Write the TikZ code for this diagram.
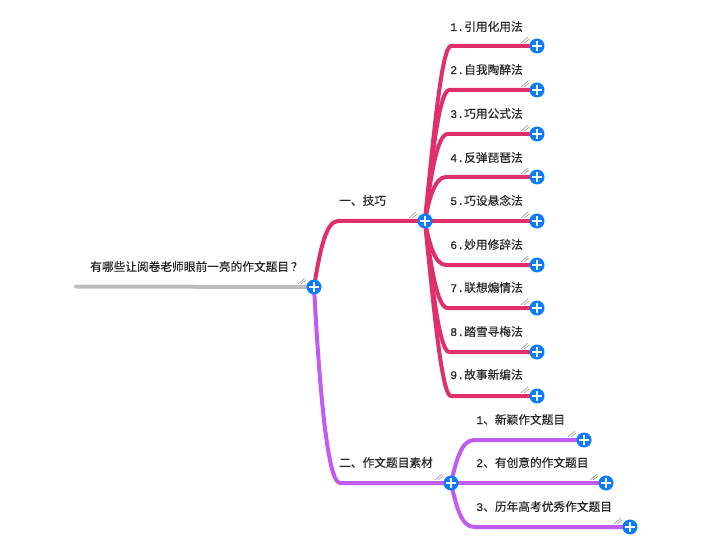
\documentclass[tikz,border=0pt]{standalone}
\usepackage{fontspec}
\setmainfont[FakeBold=0.25]{Noto Sans CJK SC}
\newfontfamily\digitfont[FakeBold=0.25]{Liberation Mono}
\usetikzlibrary{backgrounds}
\definecolor{pinkline}{HTML}{E0306A}
\definecolor{purpleline}{HTML}{C05CF0}
\definecolor{btnblue}{HTML}{0A7CFF}
\definecolor{rootgray}{HTML}{BDBDBD}
\tikzset{
  x=1pt,y=-1pt,
  btn/.style={circle,fill=btnblue,minimum size=15pt,inner sep=0pt,
    path picture={\draw[white,line width=2.6pt]
      (path picture bounding box.center) +(-5,0) -- +(5,0)
      (path picture bounding box.center) +(0,-5) -- +(0,5);}},
  lbl/.style={anchor=base west,inner sep=0pt,font=\fontsize{11.7}{12}\selectfont,text=black!85},
  conn/.style={line width=4pt,line cap=round,line join=round},
  pinkc/.style={conn,draw=pinkline},
  purplec/.style={conn,draw=purpleline},
  hatch/.style={draw=black!40,line width=0.6pt},
}
\newcommand{\hatchat}[1]{\draw[hatch] (#1.center) +(-16,-3) -- +(-9,-9) (#1.center) +(-13,-3) -- +(-8,-7);}
\begin{document}
\begin{tikzpicture}
\useasboundingbox (0,0) rectangle (720,540);
\coordinate (rootstart) at (76,286.5);
\node[btn] (root) at (314,287) {};
\node[btn] (hubA) at (425,221) {};
\node[btn] (hubB) at (451,483) {};
\foreach \i/\y in {1/46,2/90,3/134,4/177,5/221,6/265,7/308,8/352,9/396}{
  \node[btn] (a\i) at (537,\y) {};
  \pgfmathsetmacro{\dd}{(abs(\y-221)-44)/131}
  \coordinate (ka\i) at ({446+5*\dd},\y);
  \hatchat{a\i}
}
\foreach \i/\x/\y in {1/584/440,2/606/483,3/630/527}{
  \node[btn] (b\i) at (\x,\y) {};
  \hatchat{b\i}
}
\hatchat{root}\hatchat{hubA}\hatchat{hubB}
\coordinate (kA) at (338,221);
\coordinate (kB) at (340,483);
\coordinate (kb1) at (474,440);
\coordinate (kb3) at (474,527);
\begin{scope}[on background layer]
\draw[conn,draw=rootgray] (rootstart) -- (root.center);
\draw[pinkc] (root.center) .. controls (320,250) and (326,221) .. (kA) -- (hubA.center);
\draw[purplec] (root.center) .. controls (319,380) and (327,483) .. (kB) -- (hubB.center);
\foreach \i/\y in {1/46,2/90,3/134,4/177,6/265,7/308,8/352,9/396}{
  \pgfmathsetmacro{\dd}{(abs(\y-221)-44)/131}
  \draw[pinkc] (hubA.center) .. controls ({429+5*\dd},{221+(\y-221)*0.52}) and ({435+7*\dd},\y) .. (ka\i) -- (a\i.center);
}
\draw[pinkc] (hubA.center) -- (a5.center);
\draw[purplec] (hubB.center) .. controls (456,462) and (461,440) .. (kb1) -- (b1.center);
\draw[purplec] (hubB.center) -- (b2.center);
\draw[purplec] (hubB.center) .. controls (456,505) and (461,527) .. (kb3) -- (b3.center);
\end{scope}
\node[lbl] (troot) at (90,271) {有哪些让阅卷老师眼前一亮的作文题目\kern2pt？};
\node[lbl] (tA) at (339,205) {一、技巧};
\node[lbl] (tB) at (339,467) {二、作文题目素材};
\foreach \i/\y/\t in {1/31/引用化用法,2/74/自我陶醉法,3/118/巧用公式法,4/162/反弹琵琶法,5/205/巧设悬念法,6/249/妙用修辞法,7/292/联想煽情法,8/336/踏雪寻梅法,9/379/故事新编法}{
  \node[lbl] (ta\i) at (450,\y) {{\digitfont\i.}\t};
}
\node[lbl] (tb1) at (476,424) {{\digitfont 1}、新颖作文题目};
\node[lbl] (tb2) at (476,467) {{\digitfont 2}、有创意的作文题目};
\node[lbl] (tb3) at (476,511) {{\digitfont 3}、历年高考优秀作文题目};
\end{tikzpicture}
\end{document}
